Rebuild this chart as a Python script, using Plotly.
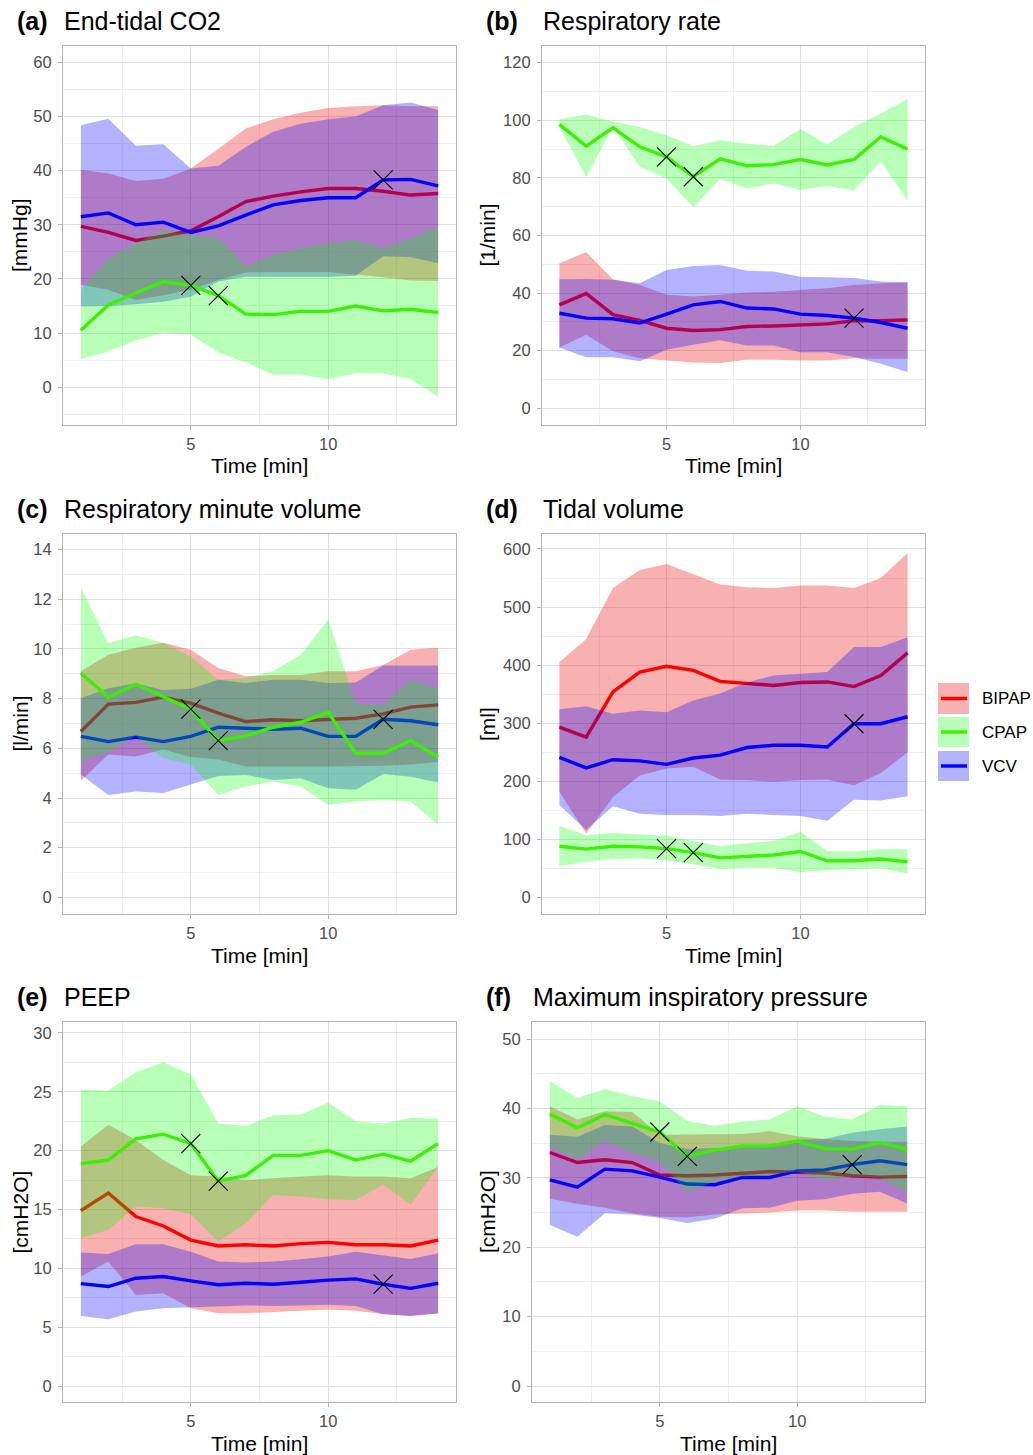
import plotly.graph_objects as go

W, H = 1033, 1455
t = list(range(1, 15))

# ---------------- data ----------------
# (a) End-tidal CO2 [mmHg]
a_bipap_mean = [29.7, 28.6, 27.1, 27.9, 28.9, 31.5, 34.3, 35.3, 36.1, 36.7, 36.7, 36.2, 35.5, 35.8]
a_bipap_lo = [18.9, 18.0, 16.1, 17.0, 18.0, 19.8, 21.2, 21.3, 21.3, 21.3, 20.8, 20.3, 19.7, 19.6]
a_bipap_hi = [40.2, 39.5, 38.1, 38.5, 40.4, 44.0, 47.8, 49.5, 50.7, 51.6, 51.9, 52.1, 51.9, 51.9]
a_vcv_mean = [31.5, 32.2, 30.0, 30.5, 28.6, 29.8, 31.8, 33.7, 34.5, 35.0, 35.0, 38.3, 38.4, 37.2]
a_vcv_lo = [14.9, 15.0, 15.3, 15.8, 16.7, 19.5, 20.4, 20.5, 20.4, 20.4, 20.6, 24.2, 24.0, 22.9]
a_vcv_hi = [48.4, 49.6, 44.6, 44.9, 40.4, 40.9, 44.4, 47.2, 48.7, 49.5, 50.0, 52.1, 52.6, 51.2]
a_cpap_mean = [10.5, 15.2, 17.4, 19.5, 18.8, 16.9, 13.5, 13.4, 14.0, 14.0, 15.0, 14.1, 14.4, 13.8]
a_cpap_lo = [5.2, 6.6, 8.6, 10.0, 9.7, 6.4, 4.6, 2.3, 2.3, 1.5, 2.5, 2.5, 1.5, -1.8]
a_cpap_hi = [18.0, 23.8, 26.6, 29.0, 28.1, 27.5, 22.4, 24.4, 25.7, 26.6, 27.2, 25.7, 27.5, 29.7]

# (b) Respiratory rate [1/min]
b_bipap_mean = [35.9, 39.9, 32.5, 30.5, 27.8, 27.0, 27.3, 28.4, 28.6, 29.0, 29.3, 30.4, 30.4, 30.7]
b_bipap_lo = [21.1, 25.5, 19.8, 17.4, 16.6, 15.9, 15.7, 16.9, 16.9, 16.6, 16.6, 17.4, 17.2, 17.2]
b_bipap_hi = [50.4, 54.2, 44.8, 42.8, 39.4, 38.8, 39.4, 40.2, 40.5, 41.1, 41.7, 42.8, 43.4, 43.7]
b_vcv_mean = [33.0, 31.3, 31.1, 29.6, 32.7, 35.9, 37.1, 34.8, 34.5, 32.7, 32.2, 31.3, 29.8, 27.8]
b_vcv_lo = [21.1, 17.7, 17.7, 16.3, 20.3, 22.1, 23.6, 21.8, 21.8, 19.5, 19.5, 17.8, 15.5, 12.6]
b_vcv_hi = [44.8, 44.9, 44.6, 43.4, 48.0, 49.4, 49.8, 47.8, 47.5, 45.7, 45.5, 45.2, 44.0, 43.8]
b_cpap_mean = [98.6, 91.0, 97.4, 90.8, 87.3, 80.4, 86.6, 84.2, 84.6, 86.4, 84.5, 86.4, 94.2, 90.0]
b_cpap_lo = [97.7, 80.2, 97.7, 83.9, 79.8, 69.8, 79.6, 76.3, 78.1, 75.8, 77.2, 75.5, 85.8, 72.1]
b_cpap_hi = [100.4, 102.0, 99.5, 97.7, 94.8, 91.1, 93.1, 91.9, 91.2, 97.0, 91.6, 97.7, 102.4, 107.4]

# (c) Respiratory minute volume [l/min]
c_bipap_mean = [6.68, 7.78, 7.85, 8.06, 7.82, 7.42, 7.08, 7.15, 7.11, 7.17, 7.21, 7.39, 7.66, 7.75]
c_bipap_lo = [4.7, 5.75, 5.67, 5.95, 5.65, 5.55, 5.27, 5.27, 5.27, 5.27, 5.27, 5.3, 5.35, 5.45]
c_bipap_hi = [9.1, 9.77, 10.05, 10.25, 9.97, 9.23, 8.9, 8.95, 8.95, 9.1, 9.1, 9.36, 9.97, 10.05]
c_vcv_mean = [6.48, 6.27, 6.45, 6.27, 6.48, 6.85, 6.81, 6.77, 6.81, 6.48, 6.48, 7.17, 7.11, 6.95]
c_vcv_lo = [4.95, 4.12, 4.26, 4.2, 4.53, 4.89, 4.93, 4.73, 4.8, 4.39, 4.33, 4.97, 4.86, 4.62]
c_vcv_hi = [8.02, 8.42, 8.62, 8.35, 8.4, 8.76, 8.63, 8.76, 8.76, 8.63, 8.65, 9.34, 9.34, 9.34]
c_cpap_mean = [9.03, 8.06, 8.58, 8.09, 7.58, 6.31, 6.50, 6.85, 7.05, 7.45, 5.80, 5.80, 6.31, 5.64]
c_cpap_lo = [5.5, 5.85, 6.5, 5.6, 5.35, 4.12, 4.46, 4.66, 4.46, 3.72, 3.86, 3.92, 3.86, 2.92]
c_cpap_hi = [12.49, 10.24, 10.55, 10.24, 9.7, 8.76, 8.83, 9.1, 9.77, 11.18, 7.82, 7.75, 8.76, 8.42]

# (d) Tidal volume [ml]
d_bipap_mean = [293, 276, 354, 388, 398, 391, 372, 369, 365, 370, 371, 363, 382, 421]
d_bipap_lo = [182, 110, 173, 210, 222, 225, 203, 202, 199, 202, 203, 193, 214, 250]
d_bipap_hi = [405, 445, 533, 564, 574, 557, 539, 534, 533, 537, 537, 533, 550, 593]
d_vcv_mean = [241, 223, 237, 235, 229, 240, 245, 258, 262, 262, 259, 299, 299, 311]
d_vcv_lo = [159, 116, 157, 144, 142, 142, 140, 144, 142, 140, 132, 168, 167, 174]
d_vcv_hi = [324, 329, 316, 322, 319, 339, 351, 370, 382, 385, 388, 431, 431, 448]
d_cpap_mean = [88, 83, 88, 87, 84, 77, 68, 71, 73, 79, 63, 63, 66, 61]
d_cpap_lo = [54, 61, 66, 67, 64, 57, 49, 51, 51, 43, 47, 48, 50, 41]
d_cpap_hi = [123, 107, 111, 109, 106, 97, 88, 93, 97, 113, 80, 79, 83, 83]

# (e) PEEP [cmH2O]
e_bipap_mean = [14.9, 16.4, 14.4, 13.6, 12.4, 11.9, 12.0, 11.9, 12.1, 12.2, 12.0, 12.0, 11.9, 12.4]
e_bipap_lo = [9.3, 10.57, 7.74, 7.88, 6.6, 6.18, 6.18, 6.26, 6.4, 6.5, 6.4, 6.12, 5.95, 6.18]
e_bipap_hi = [20.35, 22.2, 20.9, 19.2, 17.9, 17.8, 17.5, 17.66, 17.8, 17.9, 17.8, 17.8, 17.66, 18.6]
e_vcv_mean = [8.7, 8.45, 9.16, 9.3, 8.93, 8.6, 8.73, 8.65, 8.82, 9.0, 9.1, 8.65, 8.3, 8.73]
e_vcv_lo = [5.95, 5.67, 6.32, 6.6, 6.68, 6.75, 6.85, 6.8, 6.85, 6.9, 6.8, 6.1, 5.95, 6.15]
e_vcv_hi = [11.34, 11.22, 12.04, 12.04, 11.4, 10.57, 10.5, 10.57, 10.77, 11.0, 11.4, 11.1, 10.8, 11.28]
e_cpap_mean = [18.9, 19.2, 21.0, 21.4, 20.6, 17.4, 17.9, 19.6, 19.6, 20.0, 19.2, 19.7, 19.1, 20.6]
e_cpap_lo = [12.56, 13.27, 15.25, 15.1, 14.6, 12.27, 13.8, 16.24, 16.1, 15.87, 15.8, 17.1, 15.4, 18.6]
e_cpap_hi = [25.2, 25.1, 26.65, 27.5, 26.5, 22.3, 22.1, 23.0, 23.05, 24.1, 22.5, 22.3, 22.8, 22.7]

# (f) Maximum inspiratory pressure [cmH2O]
f_bipap_mean = [33.65, 32.2, 32.6, 32.2, 30.4, 30.3, 30.4, 30.7, 30.9, 30.8, 30.7, 30.3, 30.1, 30.2]
f_bipap_lo = [27.0, 26.25, 25.7, 24.9, 24.4, 24.3, 24.7, 24.9, 25.0, 25.3, 25.3, 25.1, 25.1, 25.1]
f_bipap_hi = [40.3, 38.4, 39.6, 39.5, 36.2, 36.2, 36.2, 36.3, 36.7, 36.0, 35.6, 35.3, 35.2, 35.2]
f_vcv_mean = [29.7, 28.65, 31.25, 31.0, 30.1, 29.1, 29.0, 30.05, 30.05, 31.0, 31.15, 31.9, 32.45, 31.9]
f_vcv_lo = [23.2, 21.5, 24.9, 24.7, 24.2, 23.5, 24.1, 25.6, 25.7, 26.7, 26.9, 27.7, 28.0, 26.3]
f_vcv_hi = [36.2, 35.9, 37.6, 37.4, 35.0, 34.15, 34.3, 34.4, 34.8, 35.5, 35.6, 36.5, 37.0, 37.4]
f_cpap_mean = [39.2, 37.2, 39.1, 37.9, 36.6, 33.1, 34.0, 34.6, 34.6, 35.3, 34.2, 34.1, 35.1, 34.1]
f_cpap_lo = [34.5, 32.6, 35.3, 33.6, 32.4, 27.9, 29.5, 30.2, 30.4, 30.9, 29.7, 30.2, 30.0, 27.8]
f_cpap_hi = [43.9, 41.5, 42.8, 41.8, 41.0, 38.2, 37.5, 38.1, 38.4, 40.3, 38.85, 38.4, 40.5, 40.3]

# significance markers (time points)
mark_cpap_t = [5, 6]
mark_vcv_t = [12]

groups = ["BIPAP", "CPAP", "VCV"]
panel_tags = ["(a)", "(b)", "(c)", "(d)", "(e)", "(f)"]
panel_titles = ["End-tidal CO2", "Respiratory rate", "Respiratory minute volume",
                "Tidal volume", "PEEP", "Maximum inspiratory pressure"]
y_labels = ["[mmHg]", "[1/min]", "[l/min]", "[ml]", "[cmH2O]", "[cmH2O]"]
x_label = "Time [min]"

panels = [
    dict(BIPAP=(a_bipap_mean, a_bipap_lo, a_bipap_hi), VCV=(a_vcv_mean, a_vcv_lo, a_vcv_hi), CPAP=(a_cpap_mean, a_cpap_lo, a_cpap_hi)),
    dict(BIPAP=(b_bipap_mean, b_bipap_lo, b_bipap_hi), VCV=(b_vcv_mean, b_vcv_lo, b_vcv_hi), CPAP=(b_cpap_mean, b_cpap_lo, b_cpap_hi)),
    dict(BIPAP=(c_bipap_mean, c_bipap_lo, c_bipap_hi), VCV=(c_vcv_mean, c_vcv_lo, c_vcv_hi), CPAP=(c_cpap_mean, c_cpap_lo, c_cpap_hi)),
    dict(BIPAP=(d_bipap_mean, d_bipap_lo, d_bipap_hi), VCV=(d_vcv_mean, d_vcv_lo, d_vcv_hi), CPAP=(d_cpap_mean, d_cpap_lo, d_cpap_hi)),
    dict(BIPAP=(e_bipap_mean, e_bipap_lo, e_bipap_hi), VCV=(e_vcv_mean, e_vcv_lo, e_vcv_hi), CPAP=(e_cpap_mean, e_cpap_lo, e_cpap_hi)),
    dict(BIPAP=(f_bipap_mean, f_bipap_lo, f_bipap_hi), VCV=(f_vcv_mean, f_vcv_lo, f_vcv_hi), CPAP=(f_cpap_mean, f_cpap_lo, f_cpap_hi)),
]

# ---------------- styling / layout ----------------
line_col = {"BIPAP": "#FF0000", "CPAP": "#3CF000", "VCV": "#0000FF"}
fill_col = {"BIPAP": "rgba(235,0,0,0.31)", "CPAP": "rgba(0,255,0,0.28)", "VCV": "rgba(0,0,255,0.3)"}
draw_order = ["BIPAP", "VCV", "CPAP"]

y_ranges = [[-7.0, 63.05], [-5.8, 125.8], [-0.67, 14.63], [-28.7, 625.8], [-1.36, 30.93], [-2.3, 52.45]]
y_dticks = [10, 20, 2, 100, 5, 10]
x_range = [0.35, 14.65]

FONT = "Liberation Sans, Arial, sans-serif"

def X(px):
    return px / W

def Y(py):
    return 1 - py / H

# plot areas in pixels: (left, right, top, bottom)
areas = [(63, 456, 46, 425), (542, 925, 46, 425),
         (63, 456, 534, 914), (542, 925, 534, 914),
         (63, 456, 1022, 1402), (532, 925, 1022, 1402)]

fig = go.Figure()
layout = dict(width=W, height=H, margin=dict(l=0, r=0, t=0, b=0),
              paper_bgcolor="white", plot_bgcolor="white", showlegend=False,
              font=dict(family=FONT))

GRID = "#E0E0E0"
MINOR = "#EFEFEF"
BORDER = "#B3B3B3"

annotations = []
for i, p in enumerate(panels):
    k = "" if i == 0 else str(i + 1)
    xa, ya = "x" + k, "y" + k
    for g in draw_order:
        m, lo, hi = p[g]
        fig.add_trace(go.Scatter(x=t + t[::-1], y=hi + lo[::-1], fill="toself",
                                 fillcolor=fill_col[g], line=dict(width=0), mode="lines",
                                 hoverinfo="skip", xaxis=xa, yaxis=ya))
        fig.add_trace(go.Scatter(x=t, y=m, mode="lines",
                                 line=dict(color=line_col[g], width=3.4),
                                 xaxis=xa, yaxis=ya, name=g))
    mx = mark_cpap_t + mark_vcv_t
    my = [p["CPAP"][0][tt - 1] for tt in mark_cpap_t] + [p["VCV"][0][tt - 1] for tt in mark_vcv_t]
    fig.add_trace(go.Scatter(x=mx, y=my, mode="markers",
                             marker=dict(symbol="x-thin", size=19, color="black",
                                         line=dict(width=1.1, color="black")),
                             xaxis=xa, yaxis=ya))

    l, r, tp, bt = areas[i]
    common = dict(showline=True, mirror=True, linecolor=BORDER, linewidth=1.2,
                  ticks="outside", ticklen=4, tickcolor=BORDER, tickwidth=1,
                  tickfont=dict(size=16.5, color="#4D4D4D", family=FONT),
                  showgrid=True, gridcolor=GRID, gridwidth=1, zeroline=False,
                  fixedrange=True, tickmode="linear", tick0=0)
    layout["xaxis" + k] = dict(domain=[X(l), X(r)], range=x_range, dtick=5, anchor=ya,
                               minor=dict(dtick=2.5, tick0=0, showgrid=True, gridcolor=MINOR,
                                          gridwidth=0.8, ticks=""),
                               ticklabelstandoff=0, **common)
    layout["yaxis" + k] = dict(domain=[Y(bt), Y(tp)], range=y_ranges[i], dtick=y_dticks[i], anchor=xa,
                               minor=dict(dtick=y_dticks[i] / 2, tick0=0, showgrid=True, gridcolor=MINOR,
                                          gridwidth=0.8, ticks=""),
                               ticklabelstandoff=3, **common)

    # titles
    tag_x = 15 if l < 300 else 484
    annotations.append(dict(text="<b>" + panel_tags[i] + "</b>", x=X(tag_x), y=Y(tp - 25),
                            xref="paper", yref="paper", xanchor="left", yanchor="middle",
                            showarrow=False, font=dict(size=25, color="black", family=FONT)))
    annotations.append(dict(text=panel_titles[i], x=X(l - 1), y=Y(tp - 25),
                            xref="paper", yref="paper", xanchor="left", yanchor="middle",
                            showarrow=False, font=dict(size=25, color="black", family=FONT)))
    # axis titles
    annotations.append(dict(text=x_label, x=X((l + r) / 2), y=Y(bt + 41),
                            xref="paper", yref="paper", xanchor="center", yanchor="middle",
                            showarrow=False, font=dict(size=21, color="black", family=FONT)))
    ylab_x = 19.5 if l < 300 else 487
    annotations.append(dict(text=y_labels[i], x=X(ylab_x), y=Y((tp + bt) / 2), textangle=-90,
                            xref="paper", yref="paper", xanchor="center", yanchor="middle",
                            showarrow=False, font=dict(size=21, color="black", family=FONT)))

# legend (drawn as layout shapes + text)
shapes = []
leg_rows = [(683, 714), (717, 747), (751, 781)]
for g, (y0, y1) in zip(groups, leg_rows):
    shapes.append(dict(type="rect", xref="paper", yref="paper", x0=X(938), x1=X(969),
                       y0=Y(y1), y1=Y(y0), fillcolor=fill_col[g], line=dict(width=0), layer="above"))
    yc = (y0 + y1) / 2
    shapes.append(dict(type="line", xref="paper", yref="paper", x0=X(941), x1=X(967),
                       y0=Y(yc), y1=Y(yc), line=dict(color=line_col[g], width=3.4), layer="above"))
    annotations.append(dict(text=g, x=X(980), y=Y(yc), xref="paper", yref="paper",
                            xanchor="left", yanchor="middle", showarrow=False,
                            font=dict(size=17, color="black", family=FONT)))

layout["annotations"] = annotations
layout["shapes"] = shapes
fig.update_layout(**layout)
fig.write_html("out.html", config={"displayModeBar": False},
               post_script="document.body.style.margin='0px';document.body.style.overflow='hidden';")
